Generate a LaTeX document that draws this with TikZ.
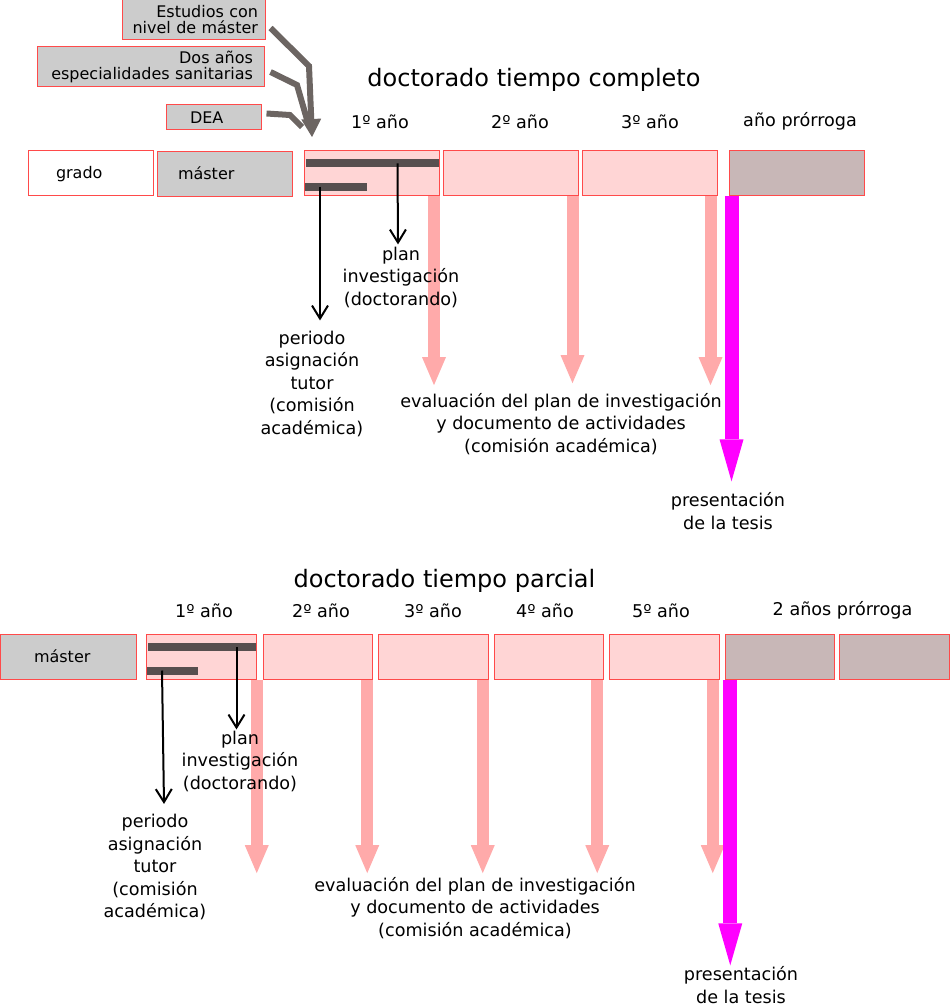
\documentclass[tikz,border=0pt]{standalone}
\usepackage{fontspec}
\setmainfont{DejaVu Sans}
\usetikzlibrary{arrows.meta, shapes}

\definecolor{yearfill}{HTML}{FFD5D5}
\definecolor{edgecol}{HTML}{FF4A4A}
\definecolor{grayfill}{HTML}{CCCCCC}
\definecolor{extfill}{HTML}{C8B7B7}
\definecolor{barcol}{HTML}{574F4F}
\definecolor{feedcol}{HTML}{6C6562}
\definecolor{evalcol}{HTML}{FFAAAA}
\definecolor{thesiscol}{HTML}{FF00FF}

\newcommand{\txtlbl}{\fontsize{17.6}{22.5}\selectfont}
\newcommand{\txtbox}{\fontsize{16}{16}\selectfont}
\newcommand{\txttitle}{\fontsize{24}{28}\selectfont}

\pgfdeclarelayer{back}
\pgfsetlayers{back,main}

\begin{document}
\begin{tikzpicture}[x=1pt, y=-1pt]
    \tikzstyle{every node} = [inner sep=0pt, font=\txtlbl, align=center]
    \tikzstyle{yearbox} = [draw=edgecol, line width=1pt, fill=yearfill, minimum height=45pt, font=\txtbox]
    \tikzstyle{prevbox} = [yearbox, fill=grayfill]
    \tikzstyle{extbox} = [yearbox, fill=extfill]
    \tikzstyle{taskbar} = [fill=barcol, minimum height=8pt]
    \tikzstyle{feedline} = [draw=feedcol, line width=6pt]
    \tikzstyle{taskarrow} = [draw=black, line width=2pt, -{Straight Barb[width=16pt, length=13pt]}]
    \tikzstyle{evalarrow} = [draw=evalcol, line width=12pt, -{Triangle[width=24pt, length=28pt, line width=0pt]}]
    \tikzstyle{thesisarrow} = [draw=thesiscol, line width=14pt, -{Triangle[width=24pt, length=42pt, line width=0pt]}]
    \useasboundingbox (0,0) rectangle (950,1006);

    % tiempo completo
    \node (est) [prevbox, minimum width=143pt, minimum height=40pt, text width=129pt, align=right] at (193.5,20) {Estudios con\\nivel de máster};
    \node (esp) [prevbox, minimum width=227pt, minimum height=40pt, text width=205pt, align=right] at (150.5,67) {Dos años\\especialidades sanitarias};
    \node (dea) [prevbox, minimum width=95pt, minimum height=25pt, text width=47pt, align=left] at (213.5,117.5) {DEA};
    \coordinate (inA) at (312,137);
    \draw [feedline, shorten >=16pt] (esp.east) ++(6,5) -- (297,85) -- (inA);
    \draw [feedline, shorten >=14pt] (dea.east) ++(5,-4) -- (290,115) -- (inA);
    \draw [feedline, -{Triangle[width=20pt, length=18pt, line width=0pt]}] (est.east) ++(5,8) -- (309,66) -- (inA);

    \node (tA) [font=\txttitle] at (534,80) {doctorado tiempo completo};
    \node (lA1) at (380,122) {1º año};
    \node (lA2) at (520,122) {2º año};
    \node (lA3) at (650,122) {3º año};
    \node (lAx) at (800,121) {año prórroga};

    \node (gradoA) [yearbox, fill=white, minimum width=125pt, text width=69pt, align=left, text depth=1pt] at (90.5,172.5) {grado};
    \node (mA) [prevbox, minimum width=135pt, text width=93pt, align=left] at (224.5,173.5) {máster};
    \node (yA1) [yearbox, minimum width=135pt] at (371.5,172.5) {};
    \node (yA2) [yearbox, minimum width=135pt] at (510.5,172.5) {};
    \node (yA3) [yearbox, minimum width=135pt] at (649.5,172.5) {};
    \node (xA) [extbox, minimum width=135pt] at (796.5,172.5) {};
    \node (planA) [taskbar, minimum width=133pt] at (372.5,163.3) {};
    \node (tutA) [taskbar, minimum width=62pt] at (336,186.7) {};

    \node (planlblA) at (401,277) {plan\\investigación\\(doctorando)};
    \node (tutlblA) at (312,383.5) {periodo\\asignación\\tutor\\(comisión\\académica)};
    \node (evalA) at (561,424) {evaluación del plan de investigación\\y documento de actividades\\(comisión académica)};
    \node (presA) at (728,511) {presentación\\de la tesis};

    \draw [taskarrow] ([xshift=25pt]planA.center) -- ([xshift=-3pt, yshift=2pt]planlblA.north);
    \draw [taskarrow] ([xshift=-16pt]tutA.center) -- ([xshift=8pt, yshift=10pt]tutlblA.north);
    \begin{pgfonlayer}{back}
    \draw [evalarrow, shorten >=8pt] ([xshift=-5.5pt]yA1.south east) -- ([xshift=-5.5pt]yA1.south east |- evalA.north);
    \draw [evalarrow, shorten >=10pt] ([xshift=-6pt]yA2.south east) -- ([xshift=-6pt]yA2.south east |- evalA.north);
    \draw [evalarrow, shorten >=8pt] ([xshift=-7pt]yA3.south east) -- ([xshift=-7pt]yA3.south east |- evalA.north);
    \draw [thesisarrow, shorten >=11pt] ([xshift=3pt]xA.south west) -- ([xshift=3pt]xA.south west |- presA.north);
    \end{pgfonlayer}

    % tiempo parcial
    \node (tB) [font=\txttitle] at (444.5,581) {doctorado tiempo parcial};
    \node (lB1) at (204,611) {1º año};
    \node (lB2) at (321,611) {2º año};
    \node (lB3) at (433,611) {3º año};
    \node (lB4) at (545,611) {4º año};
    \node (lB5) at (661,611) {5º año};
    \node (lBx) at (842.5,610) {2 años prórroga};

    \node (mB) [prevbox, minimum width=136pt, text width=68pt, align=left] at (68,656.5) {máster};
    \node (yB1) [yearbox, minimum width=109.5pt] at (201.5,656.5) {};
    \node (yB2) [yearbox, minimum width=109.5pt] at (318,656.5) {};
    \node (yB3) [yearbox, minimum width=109.5pt] at (433.5,656.5) {};
    \node (yB4) [yearbox, minimum width=109.5pt] at (549,656.5) {};
    \node (yB5) [yearbox, minimum width=109.5pt] at (664.5,656.5) {};
    \node (xB1) [extbox, minimum width=109.5pt] at (780,656.5) {};
    \node (xB2) [extbox, minimum width=109.5pt] at (894.5,656.5) {};
    \node (planB) [taskbar, minimum width=108pt] at (202,647) {};
    \node (tutB) [taskbar, minimum width=51pt] at (172.5,670.5) {};

    \node (planlblB) at (240,761) {plan\\investigación\\(doctorando)};
    \node (tutlblB) at (155,867) {periodo\\asignación\\tutor\\(comisión\\académica)};
    \node (evalB) at (475,908) {evaluación del plan de investigación\\y documento de actividades\\(comisión académica)};
    \node (presB) at (741,985) {presentación\\de la tesis};

    \draw [taskarrow] ([xshift=34.5pt]planB.center) -- ([xshift=-3.5pt, yshift=1pt]planlblB.north);
    \draw [taskarrow] ([xshift=-10.5pt]tutB.center) -- ([xshift=9pt, yshift=10pt]tutlblB.north);
    \begin{pgfonlayer}{back}
    \draw [evalarrow, shorten >=4pt] (yB1.south east) -- (yB1.south east |- evalB.north);
    \draw [evalarrow, shorten >=4pt] ([xshift=-6pt]yB2.south east) -- ([xshift=-6pt]yB2.south east |- evalB.north);
    \draw [evalarrow, shorten >=4pt] ([xshift=-6pt]yB3.south east) -- ([xshift=-6pt]yB3.south east |- evalB.north);
    \draw [evalarrow, shorten >=4pt] ([xshift=-7pt]yB4.south east) -- ([xshift=-7pt]yB4.south east |- evalB.north);
    \draw [evalarrow, shorten >=4pt] ([xshift=-7pt]yB5.south east) -- ([xshift=-7pt]yB5.south east |- evalB.north);
    \draw [thesisarrow, shorten >=1pt] ([xshift=5.5pt]xB1.south west) -- ([xshift=5.5pt]xB1.south west |- presB.north);
    \end{pgfonlayer}
\end{tikzpicture}
\end{document}
